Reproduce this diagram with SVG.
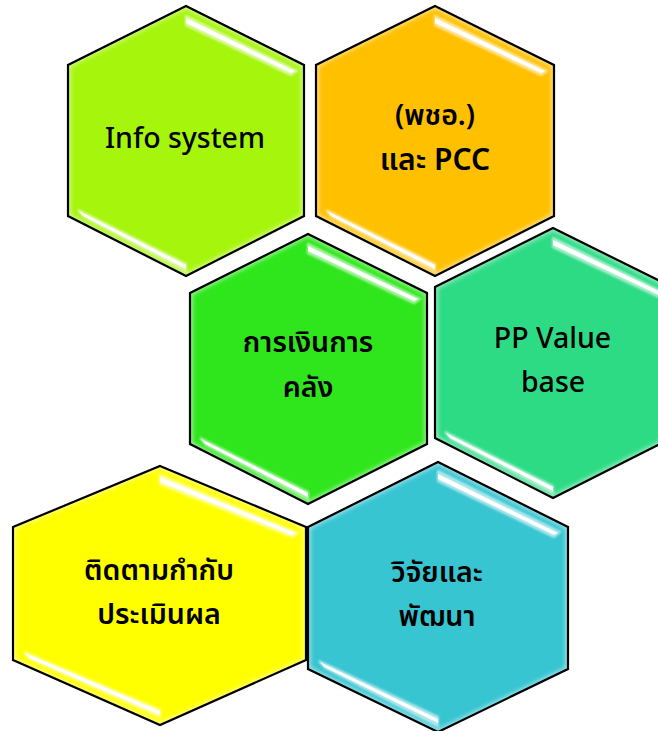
<svg xmlns="http://www.w3.org/2000/svg" width="658" height="731" viewBox="0 0 658 731">
<style>
.line{fill:none;stroke:#000;stroke-width:2.2;stroke-linejoin:miter}
.glow{fill:none;stroke:#fff;stroke-width:4;opacity:.7;filter:url(#b3)}
.hl{fill:#fff;stroke:#fff;stroke-width:2;opacity:.6;filter:url(#b2)}
.core{fill:#fff;filter:url(#b1)}
text{font-family:"Noto Sans","Noto Sans Thai","Liberation Sans",sans-serif;font-size:28.5px;font-weight:600;fill:#000;text-anchor:middle}
.lat{font-size:28.5px;font-weight:500}
</style>
<defs>
<filter id="b1" x="-10%" y="-10%" width="120%" height="120%"><feGaussianBlur stdDeviation="0.4"/></filter>
<filter id="b2" x="-10%" y="-20%" width="120%" height="140%"><feGaussianBlur stdDeviation="1.2"/></filter>
<filter id="b3" x="-10%" y="-10%" width="120%" height="120%"><feGaussianBlur stdDeviation="2.5"/></filter>
<clipPath id="c1"><polygon points="186,6 304,65 304,216 186,276 68,216 68,65"/></clipPath>
<clipPath id="c2"><polygon points="435,6 554,65 554,216 435,276 316,216 316,65"/></clipPath>
<clipPath id="c3"><polygon points="308,234 427,293 427,444 308,504 190,444 190,293"/></clipPath>
<clipPath id="c4"><polygon points="553,228 672,287 672,438 553,498 435,438 435,287"/></clipPath>
<clipPath id="c5"><polygon points="160,466 306,527 306,660 160,725 13,660 13,527"/></clipPath>
<clipPath id="c6"><polygon points="438,462 568,527 568,669 438,732 308,669 308,527"/></clipPath>
</defs>
<g id="connectors"/>
<g id="node-info">
<polygon fill="#a6f50d" points="186,6 304,65 304,216 186,276 68,216 68,65"/>
<polygon class="glow" clip-path="url(#c1)" points="186,6 304,65 304,216 186,276 68,216 68,65"/>
<polygon class="hl" points="186,16 297,71 291,75 186,25"/><polygon class="core" points="186,18 295,71 291,73 186,23"/>
<polygon class="hl" points="78,210 186,264 186,271 84,217"/><polygon class="core" points="79,211 186,265 186,269 83,216"/>
<polygon class="line" points="186,6 304,65 304,216 186,276 68,216 68,65"/>
<text class="lat" x="185" y="148">Info system</text>
</g>
<g id="node-pcc">
<polygon fill="#ffc000" points="435,6 554,65 554,216 435,276 316,216 316,65"/>
<polygon class="glow" clip-path="url(#c2)" points="435,6 554,65 554,216 435,276 316,216 316,65"/>
<polygon class="hl" points="435,16 547,71 541,75 435,25"/><polygon class="core" points="435,18 545,71 541,73 435,23"/>
<polygon class="hl" points="326,210 435,264 435,271 332,217"/><polygon class="core" points="327,211 435,265 435,269 331,216"/>
<polygon class="line" points="435,6 554,65 554,216 435,276 316,216 316,65"/>
<text x="435" y="125">(พชอ.)</text><text x="435" y="170" style="font-size:30px">และ PCC</text>
</g>
<g id="node-finance">
<polygon fill="#2fe61d" points="308,234 427,293 427,444 308,504 190,444 190,293"/>
<polygon class="glow" clip-path="url(#c3)" points="308,234 427,293 427,444 308,504 190,444 190,293"/>
<polygon class="hl" points="308,244 420,299 414,303 308,253"/><polygon class="core" points="308,246 418,299 414,301 308,251"/>
<polygon class="hl" points="200,438 308,492 308,499 206,445"/><polygon class="core" points="201,439 308,493 308,497 205,444"/>
<polygon class="line" points="308,234 427,293 427,444 308,504 190,444 190,293"/>
<text x="308" y="352">การเงินการ</text><text x="308" y="397">คลัง</text>
</g>
<g id="node-value">
<polygon fill="#2edb85" points="553,228 672,287 672,438 553,498 435,438 435,287"/>
<polygon class="glow" clip-path="url(#c4)" points="553,228 672,287 672,438 553,498 435,438 435,287"/>
<polygon class="hl" points="553,238 665,293 659,297 553,247"/><polygon class="core" points="553,240 663,293 659,295 553,245"/>
<polygon class="hl" points="445,432 553,486 553,493 451,439"/><polygon class="core" points="446,433 553,487 553,491 450,438"/>
<polygon class="line" points="553,228 672,287 672,438 553,498 435,438 435,287"/>
<text class="lat" x="552.500" y="348">PP Value</text><text class="lat" x="553" y="392">base</text>
</g>
<g id="node-monitor">
<polygon fill="#ffff00" points="160,466 306,527 306,660 160,725 13,660 13,527"/>
<polygon class="glow" clip-path="url(#c5)" points="160,466 306,527 306,660 160,725 13,660 13,527"/>
<polygon class="hl" points="160,475 298,533 292,537 160,484"/><polygon class="core" points="160,477 296,533 292,535 160,482"/>
<polygon class="hl" points="24,652 160,710 160,717 30,659"/><polygon class="core" points="25,653 160,711 160,715 29,658"/>
<polygon class="line" points="160,466 306,527 306,660 160,725 13,660 13,527"/>
<text x="159" y="580">ติดตามกำกับ</text><text x="159" y="624">ประเมินผล</text>
</g>
<g id="node-research">
<polygon fill="#36c5d1" points="438,462 568,527 568,669 438,732 308,669 308,527"/>
<polygon class="glow" clip-path="url(#c6)" points="438,462 568,527 568,669 438,732 308,669 308,527"/>
<polygon class="hl" points="438,471 560,532 554,537 438,481"/><polygon class="core" points="438,474 558,533 554,535 438,479"/>
<polygon class="hl" points="319,661 438,717 438,726 325,668"/><polygon class="core" points="320,662 438,719 438,723 324,667"/>
<polygon class="line" points="438,462 568,527 568,669 438,732 308,669 308,527"/>
<text x="437" y="582">วิจัยและ</text><text x="437" y="626">พัฒนา</text>
</g>
</svg>
